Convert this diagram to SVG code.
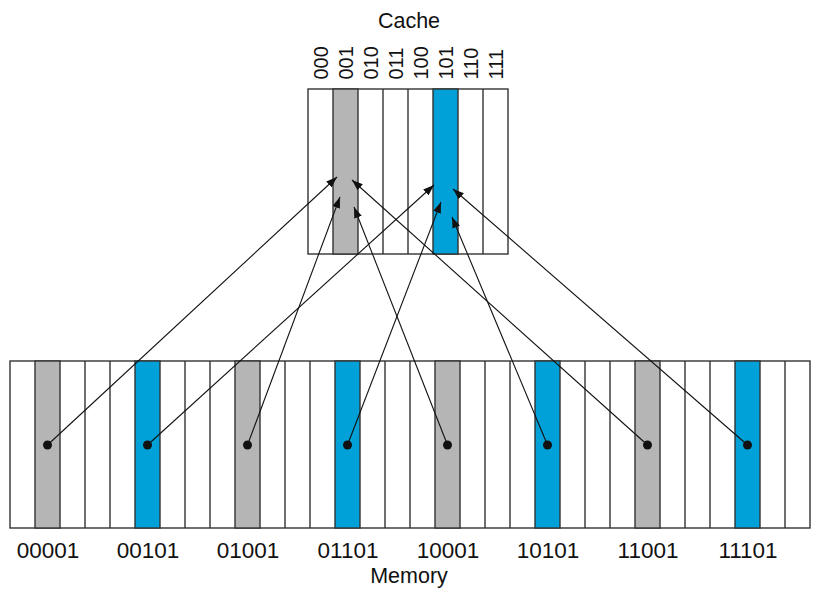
<svg xmlns="http://www.w3.org/2000/svg" width="816" height="594" viewBox="0 0 816 594">
<style>
.t{font-family:"Liberation Sans",Arial,Helvetica,sans-serif;fill:#111}
.big{font-size:21.5px}
.lab{font-size:22.5px}
.rot{font-size:20px}
.box{fill:#fff;stroke:#333;stroke-width:1.4}
.ln{stroke:#333;stroke-width:1.4}
.g{fill:#b5b5b5;stroke:#333;stroke-width:1.4}
.b{fill:#00a0d8;stroke:#333;stroke-width:1.4}
.c{stroke:#111;stroke-width:1.1;fill:none;marker-end:url(#ah)}
.d{fill:#111}
</style>
<defs>
<marker id="ah" markerUnits="userSpaceOnUse" markerWidth="12" markerHeight="8" refX="11" refY="4" orient="auto">
<path d="M0,0 L11,4 L0,8 z" fill="#111"/>
</marker>
</defs>

<g id="cache">
<text class="t big" x="409" y="28" text-anchor="middle">Cache</text>
<rect class="box" x="308" y="89" width="200" height="165"/>
<rect class="g" x="333" y="89" width="25" height="165"/>
<rect class="b" x="433" y="89" width="25" height="165"/>
<g class="ln">
<line x1="383" y1="89" x2="383" y2="254"/>
<line x1="408" y1="89" x2="408" y2="254"/>
<line x1="483" y1="89" x2="483" y2="254"/>
</g>
<g class="t rot">
<text transform="translate(327.8,79.5) rotate(-90)">000</text>
<text transform="translate(352.8,79.5) rotate(-90)">001</text>
<text transform="translate(377.8,79.5) rotate(-90)">010</text>
<text transform="translate(402.8,79.5) rotate(-90)">011</text>
<text transform="translate(427.8,79.5) rotate(-90)">100</text>
<text transform="translate(452.8,79.5) rotate(-90)">101</text>
<text transform="translate(477.8,79.5) rotate(-90)">110</text>
<text transform="translate(502.8,79.5) rotate(-90)">111</text>
</g>
</g>

<g id="memory">
<rect class="box" x="10" y="361" width="800" height="167"/>
<rect class="g" x="35" y="361" width="25" height="167"/>
<rect class="b" x="135" y="361" width="25" height="167"/>
<rect class="g" x="235" y="361" width="25" height="167"/>
<rect class="b" x="335" y="361" width="25" height="167"/>
<rect class="g" x="435" y="361" width="25" height="167"/>
<rect class="b" x="535" y="361" width="25" height="167"/>
<rect class="g" x="635" y="361" width="25" height="167"/>
<rect class="b" x="735" y="361" width="25" height="167"/>
<g class="ln">
<line x1="85" y1="361" x2="85" y2="528"/><line x1="110" y1="361" x2="110" y2="528"/>
<line x1="185" y1="361" x2="185" y2="528"/><line x1="210" y1="361" x2="210" y2="528"/>
<line x1="285" y1="361" x2="285" y2="528"/><line x1="310" y1="361" x2="310" y2="528"/>
<line x1="385" y1="361" x2="385" y2="528"/><line x1="410" y1="361" x2="410" y2="528"/>
<line x1="485" y1="361" x2="485" y2="528"/><line x1="510" y1="361" x2="510" y2="528"/>
<line x1="585" y1="361" x2="585" y2="528"/><line x1="610" y1="361" x2="610" y2="528"/>
<line x1="685" y1="361" x2="685" y2="528"/><line x1="710" y1="361" x2="710" y2="528"/>
<line x1="785" y1="361" x2="785" y2="528"/>
</g>
<g class="t lab" text-anchor="middle">
<text x="48" y="558">00001</text>
<text x="148" y="558">00101</text>
<text x="248" y="558">01001</text>
<text x="348" y="558">01101</text>
<text x="448" y="558">10001</text>
<text x="548" y="558">10101</text>
<text x="648" y="558">11001</text>
<text x="748" y="558">11101</text>
</g>
<text class="t big" x="409" y="582.5" text-anchor="middle">Memory</text>
</g>

<g id="connectors">
<line class="c" x1="47.5" y1="445" x2="337" y2="177"/>
<line class="c" x1="147.5" y1="445" x2="434" y2="185"/>
<line class="c" x1="247.5" y1="445" x2="340" y2="197"/>
<line class="c" x1="347.5" y1="445" x2="441" y2="202"/>
<line class="c" x1="447.5" y1="445" x2="354" y2="207"/>
<line class="c" x1="547.5" y1="445" x2="452" y2="217"/>
<line class="c" x1="647.5" y1="445" x2="352" y2="180"/>
<line class="c" x1="747.5" y1="445" x2="453" y2="189"/>
<circle class="d" cx="47.5" cy="445" r="4.5"/>
<circle class="d" cx="147.5" cy="445" r="4.5"/>
<circle class="d" cx="247.5" cy="445" r="4.5"/>
<circle class="d" cx="347.5" cy="445" r="4.5"/>
<circle class="d" cx="447.5" cy="445" r="4.5"/>
<circle class="d" cx="547.5" cy="445" r="4.5"/>
<circle class="d" cx="647.5" cy="445" r="4.5"/>
<circle class="d" cx="747.5" cy="445" r="4.5"/>
</g>
</svg>
